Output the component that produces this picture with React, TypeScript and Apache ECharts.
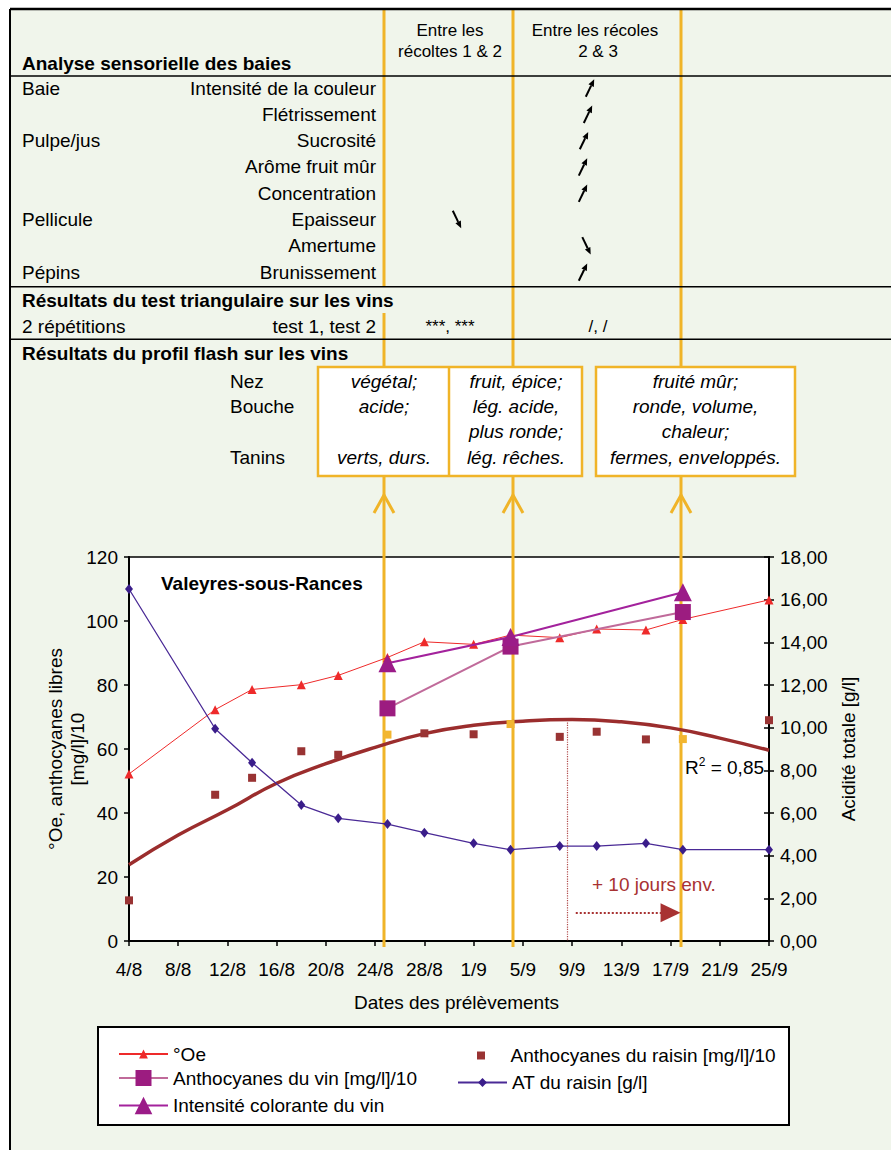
import React, { useEffect, useRef } from 'react';
import * as echarts from 'echarts';

const FONT = '"Liberation Sans", Arial, Helvetica, sans-serif';
const ORANGE = '#f0b428';

// ---------- chart data ----------
const xTickLabels = ['4/8', '8/8', '12/8', '16/8', '20/8', '24/8', '28/8', '1/9', '5/9', '9/9', '13/9', '17/9', '21/9', '25/9'];
// days since 4/8
const sampleDays = [0, 7, 10, 14, 17, 21, 24, 28, 31, 35, 38, 42, 45, 52];
const oeValues = [52.2, 72.3, 78.6, 80.1, 83.0, 88.6, 93.5, 92.7, 95.6, 94.8, 97.5, 97.2, 100.5, 106.6];
const atValues = [16.5, 9.95, 8.36, 6.37, 5.75, 5.48, 5.08, 4.58, 4.28, 4.45, 4.45, 4.58, 4.28, 4.28];
const anthoRaisinValues = [12.7, 45.7, 51.0, 59.3, 58.2, 64.5, 64.9, 64.6, 67.8, 63.8, 65.4, 63.0, 63.1, 69.0];
const harvestSampleIdx = [5, 8, 12];
const wineDays = [21, 31, 45];
const anthoVinValues = [72.7, 92.0, 102.8];
const intensiteValues = [86.8, 95.0, 109.0];
const trendDays = [0, 4, 8, 12, 16, 20, 24, 28, 32, 36, 40, 44, 48, 52];
const trendValues = [23.8, 33.1, 41.0, 49.3, 55.4, 60.5, 64.8, 67.4, 68.7, 69.2, 68.5, 66.6, 63.4, 59.6];
const vertexMark = [35.6, 68.3];
const shiftArrow = [36.3, 44.0, 8.85];

// ---------- table data ----------
const sensoryGroups = ['Baie', '', 'Pulpe/jus', '', '', 'Pellicule', '', 'Pépins'];
const sensoryAttrs = ['Intensité de la couleur', 'Flétrissement', 'Sucrosité', 'Arôme fruit mûr', 'Concentration', 'Epaisseur', 'Amertume', 'Brunissement'];
const arrowDirs = ['up', 'up', 'up', 'up', 'up', 'down', 'down', 'up'];
const arrowCenters = [590, 588, 584, 583, 583, 457, 586.5, 583];
const flashLabels = [['Nez', 0], ['Bouche', 1], ['Tanins', 3]];
const flashBox1 = ['végétal;', 'acide;', '', 'verts, durs.'];
const flashBox2 = ['fruit, épice;', 'lég. acide,', 'plus ronde;', 'lég. rêches.'];
const flashBox3 = ['fruité mûr;', 'ronde, volume,', 'chaleur;', 'fermes, enveloppés.'];

function T(text: string, x: number, y: number, o: any = {}) {
  return {
    type: 'text', x, y, z: 6, silent: true,
    style: {
      text, fill: o.fill || '#000', fontSize: o.size || 19, fontFamily: FONT,
      fontWeight: o.bold ? 'bold' : 'normal', fontStyle: o.italic ? 'italic' : 'normal',
      align: o.align || 'left', verticalAlign: 'middle',
    },
  };
}
function L(x1: number, y1: number, x2: number, y2: number, stroke: string, w: number, z = 2) {
  return { type: 'line', z, silent: true, shape: { x1, y1, x2, y2 }, style: { stroke, lineWidth: w } };
}
function arrowEls(x1: number, y1: number, x2: number, y2: number) {
  const dx = x2 - x1, dy = y2 - y1, len = Math.hypot(dx, dy), ux = dx / len, uy = dy / len;
  const hl = 7, hw = 3;
  const bx = x2 - ux * hl, by = y2 - uy * hl;
  return [
    L(x1, y1, bx, by, '#000', 2, 6),
    { type: 'polygon', z: 6, silent: true, shape: { points: [[x2, y2], [bx - uy * hw, by + ux * hw], [bx + uy * hw, by - ux * hw]] }, style: { fill: '#000' } },
  ];
}

export default function App() {
  const ref = useRef<HTMLDivElement>(null);
  useEffect(() => {
    if (!ref.current) return;
    const chart = echarts.init(ref.current, undefined, { renderer: 'svg' });
    const rowY = (i: number) => 88 + 26.3 * i;
    const flashY = [381.5, 406.7, 431.8, 457.3];

    const g: any[] = [];
    g.push({ type: 'rect', z: -10, silent: true, shape: { x: 10, y: 9, width: 881, height: 1141 }, style: { fill: '#f0f5eb' } });
    // frame & table rules
    g.push(L(10, 9, 891, 9, '#000', 2.5, 3));
    g.push(L(10, 9, 10, 1150, '#000', 2, 3));
    g.push(L(10, 76, 891, 76, '#000', 1.5, 3));
    g.push(L(10, 286.7, 891, 286.7, '#000', 1.5, 3));
    g.push(L(10, 339.3, 891, 339.3, '#000', 1.5, 3));
    // orange harvest lines
    const hx = [384, 513, 681];
    g.push(L(hx[0], 9, hx[0], 287, ORANGE, 3, 1));
    g.push(L(hx[0], 313, hx[0], 367, ORANGE, 3, 1));
    g.push(L(hx[1], 9, hx[1], 367, ORANGE, 3, 1));
    g.push(L(hx[2], 9, hx[2], 367, ORANGE, 3, 1));
    hx.forEach((x) => {
      g.push(L(x, 476, x, 947, ORANGE, 3, 1));
      g.push({ type: 'polyline', z: 1, silent: true, shape: { points: [[x - 10, 513], [x, 495], [x + 10, 513]] }, style: { stroke: ORANGE, lineWidth: 3, fill: 'none' } });
    });
    // flash boxes
    g.push({ type: 'rect', z: 2, silent: true, shape: { x: 318, y: 367, width: 264, height: 109 }, style: { fill: '#fff', stroke: ORANGE, lineWidth: 2.5 } });
    g.push(L(449, 367, 449, 476, ORANGE, 2.5, 2));
    g.push({ type: 'rect', z: 2, silent: true, shape: { x: 596, y: 367, width: 199, height: 109 }, style: { fill: '#fff', stroke: ORANGE, lineWidth: 2.5 } });

    // header
    g.push(T('Entre les', 450, 30, { size: 17, align: 'center' }));
    g.push(T('récoltes 1 & 2', 450, 51.7, { size: 17, align: 'center' }));
    g.push(T('Entre les récoles', 595, 30, { size: 17, align: 'center' }));
    g.push(T('2 & 3', 598, 51.7, { size: 17, align: 'center' }));
    g.push(T('Analyse sensorielle des baies', 22, 63.5, { bold: true }));
    sensoryAttrs.forEach((a, i) => {
      const y = rowY(i);
      if (sensoryGroups[i]) g.push(T(sensoryGroups[i], 22, y));
      g.push(T(a, 376, y, { align: 'right' }));
      const cx = arrowCenters[i];
      if (arrowDirs[i] === 'up') g.push(...arrowEls(cx - 4.2, y + 8.7, cx + 4.2, y - 8.7));
      else g.push(...arrowEls(cx - 4.2, y - 8.7, cx + 4.2, y + 8.7));
    });
    g.push(T('Résultats du test triangulaire sur les vins', 22, 300, { bold: true }));
    g.push(T('2 répétitions', 22, 326.5));
    g.push(T('test 1, test 2', 376, 326.5, { align: 'right' }));
    g.push(T('***, ***', 450, 326.5, { size: 17, align: 'center' }));
    g.push(T('/, /', 598, 326.5, { size: 17, align: 'center' }));
    g.push(T('Résultats du profil flash sur les vins', 22, 353, { bold: true }));
    flashLabels.forEach(([t, r]) => g.push(T(t as string, 230, flashY[r as number])));
    flashBox1.forEach((t, i) => t && g.push(T(t, 384, flashY[i], { italic: true, align: 'center' })));
    flashBox2.forEach((t, i) => t && g.push(T(t, 516, flashY[i], { italic: true, align: 'center' })));
    flashBox3.forEach((t, i) => t && g.push(T(t, 695.5, flashY[i], { italic: true, align: 'center' })));

    // chart annotations
    g.push({
      type: 'text', x: 685, y: 767, z: 6, silent: true,
      style: {
        text: '{a|R}{b|2}{a| = 0,85}', verticalAlign: 'middle', align: 'left',
        rich: {
          a: { fontSize: 19, fontFamily: FONT, fill: '#000', color: '#000', lineHeight: 22 },
          b: { fontSize: 12, fontFamily: FONT, fill: '#000', color: '#000', verticalAlign: 'top', lineHeight: 22 },
        },
      },
    });
    g.push(T('+ 10 jours env.', 592, 884, { fill: '#a83232' }));

    // legend frame
    g.push({ type: 'rect', z: 3, silent: true, shape: { x: 98, y: 1027, width: 691, height: 98 }, style: { fill: '#fff', stroke: '#000', lineWidth: 2 } });

    const legendBase = {
      padding: 0, selectedMode: false, itemGap: 0, z: 5, orient: 'horizontal',
      textStyle: { fontSize: 19, color: '#000', fontFamily: FONT },
    };

    const option: any = {
      animation: false,
      backgroundColor: '#fff',
      textStyle: { fontFamily: FONT },
      title: {
        text: 'Valeyres-sous-Rances', left: 161, top: 573.5, padding: 0,
        textStyle: { fontSize: 19, fontWeight: 'bold', color: '#000', fontFamily: FONT },
      },
      graphic: { elements: g },
      legend: [
        { ...legendBase, data: ['°Oe'], left: 118, top: 1044.5, itemWidth: 49, itemHeight: 11 },
        {
          ...legendBase, data: [{ name: 'Anthocyanes du raisin [mg/l]/10', icon: 'path://M0,0h10v10h-10z' }],
          left: 477, top: 1046, itemWidth: 49, itemHeight: 8, symbolKeepAspect: true,
        },
        { ...legendBase, data: ['Anthocyanes du vin [mg/l]/10'], left: 118, top: 1068.5, itemWidth: 49, itemHeight: 20 },
        { ...legendBase, data: ['AT du raisin [g/l]'], left: 457, top: 1073, itemWidth: 49, itemHeight: 11 },
        { ...legendBase, data: ['Intensité colorante du vin'], left: 118, top: 1096, itemWidth: 49, itemHeight: 22 },
      ],
      grid: { left: 129, right: 122, top: 557, bottom: 209, show: true, backgroundColor: '#fff', borderColor: '#000', borderWidth: 1.5, z: 0 },
      xAxis: {
        type: 'value', min: 0, max: 52, interval: 4,
        axisLine: { show: true, lineStyle: { color: '#000', width: 2 } },
        axisTick: { show: true, length: 5, lineStyle: { color: '#000', width: 1.5 } },
        axisLabel: { formatter: (v: number) => xTickLabels[Math.round(v / 4)], fontSize: 19, color: '#000', margin: 19, fontFamily: FONT },
        splitLine: { show: false },
        name: 'Dates des prélèvements', nameLocation: 'middle', nameGap: 52, nameMoveOverlap: false,
        nameTextStyle: { fontSize: 19, color: '#000', fontFamily: FONT, padding: [0, 0, 0, 15] },
      },
      yAxis: [
        {
          type: 'value', min: 0, max: 120, interval: 20, position: 'left',
          axisLine: { show: true, lineStyle: { color: '#000', width: 2 } },
          axisTick: { show: true, length: 5, lineStyle: { color: '#000', width: 1.5 } },
          axisLabel: { fontSize: 19, color: '#000', margin: 11, fontFamily: FONT },
          splitLine: { show: false },
          name: '°Oe, anthocyanes libres\n[mg/l]/10', nameLocation: 'middle', nameGap: 41, nameMoveOverlap: false,
          nameTextStyle: { fontSize: 19, color: '#000', fontFamily: FONT, lineHeight: 22 },
        },
        {
          type: 'value', min: 0, max: 18, interval: 2, position: 'right',
          axisLine: { show: true, lineStyle: { color: '#000', width: 2 } },
          axisTick: { show: true, length: 5, lineStyle: { color: '#000', width: 1.5 } },
          axisLabel: { fontSize: 19, color: '#000', margin: 11, fontFamily: FONT, formatter: (v: number) => v.toFixed(2).replace('.', ',') },
          splitLine: { show: false },
          name: 'Acidité totale [g/l]', nameLocation: 'middle', nameGap: 70, nameMoveOverlap: false,
          nameTextStyle: { fontSize: 19, color: '#000', fontFamily: FONT },
        },
        {
          type: 'value', min: 0, max: 18, interval: 2, position: 'right',
          axisLine: { show: false },
          axisTick: { show: true, inside: true, length: 5, lineStyle: { color: '#000', width: 1.5 } },
          axisLabel: { show: false },
          splitLine: { show: false },
        },
      ],
      series: [
        {
          name: 'Tendance', type: 'line', smooth: true, showSymbol: false, symbol: 'none',
          data: trendDays.map((d, i) => [d, trendValues[i]]),
          lineStyle: { color: '#9b2d2d', width: 3.5 }, z: 2, silent: true,
          markLine: {
            silent: true, symbol: 'none', label: { show: false }, animation: false,
            data: [
              [
                { coord: [vertexMark[0], vertexMark[1]], symbol: 'none', lineStyle: { type: 'dotted', color: '#b04a4a', width: 1.2 } },
                { coord: [vertexMark[0], 0], symbol: 'none', lineStyle: { type: 'dotted', color: '#b04a4a', width: 1.2 } },
              ],
              [
                { coord: [shiftArrow[0], shiftArrow[2]], symbol: 'none', lineStyle: { type: 'dotted', color: '#a83232', width: 2 } },
                { coord: [shiftArrow[1], shiftArrow[2]], symbol: 'triangle', symbolSize: [19, 20], lineStyle: { type: 'dotted', color: '#a83232', width: 2 } },
              ],
            ],
          },
        },
        {
          name: 'Anthocyanes du raisin [mg/l]/10', type: 'scatter', symbol: 'rect', symbolSize: 8,
          itemStyle: { color: '#993333', opacity: 1 }, z: 3,
          data: sampleDays.map((d, i) => harvestSampleIdx.includes(i)
            ? { value: [d, anthoRaisinValues[i]], itemStyle: { color: '#f2b630', opacity: 1 } }
            : [d, anthoRaisinValues[i]]),
        },
        {
          name: '°Oe', type: 'line', symbol: 'triangle', symbolSize: 9, showSymbol: true,
          data: sampleDays.map((d, i) => [d, oeValues[i]]),
          itemStyle: { color: '#ee2a2a' }, lineStyle: { color: '#ee2a2a', width: 1 }, z: 3,
        },
        {
          name: 'AT du raisin [g/l]', type: 'line', yAxisIndex: 1, symbol: 'diamond', symbolSize: [8, 10], showSymbol: true,
          data: sampleDays.map((d, i) => [d, atValues[i]]),
          itemStyle: { color: '#3a1d8a' }, lineStyle: { color: '#4a2a96', width: 1.3 }, z: 3,
        },
        {
          name: 'Anthocyanes du vin [mg/l]/10', type: 'line', symbol: 'rect', symbolSize: 16, showSymbol: true,
          data: wineDays.map((d, i) => [d, anthoVinValues[i]]),
          itemStyle: { color: '#9c1c80' }, lineStyle: { color: '#c06a9a', width: 2 }, z: 4,
        },
        {
          name: 'Intensité colorante du vin', type: 'line', symbol: 'triangle', symbolSize: 18, showSymbol: true,
          data: wineDays.map((d, i) => [d, intensiteValues[i]]),
          itemStyle: { color: '#9b1b88' }, lineStyle: { color: '#a3229c', width: 2 }, z: 4,
        },
      ],
    };
    chart.setOption(option);
    return () => chart.dispose();
  }, []);
  return <div ref={ref} style={{ position: 'absolute', left: 0, top: 0, width: 891, height: 1150 }} />;
}
